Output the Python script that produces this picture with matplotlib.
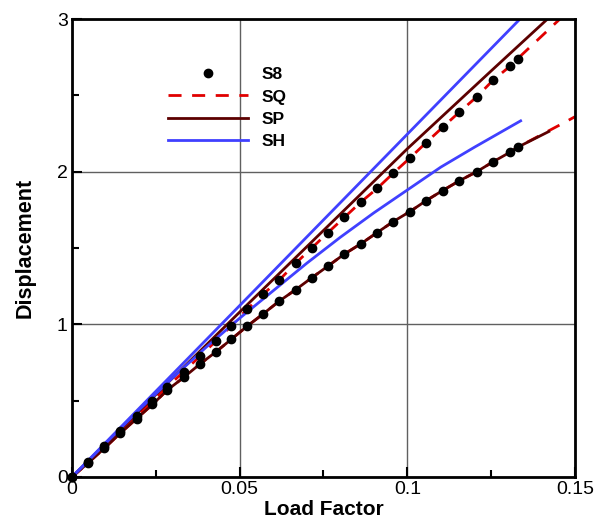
import matplotlib
matplotlib.use("Agg")
import matplotlib.pyplot as plt

plt.rcParams['font.family'] = ['Liberation Sans', 'DejaVu Sans']

# ===============================
# Data
# ===============================
# S8 reference points (shared load factor positions)
s8_x = [0.0, 0.0049, 0.0096, 0.0143, 0.0193, 0.0240, 0.0284, 0.0333, 0.0381,
        0.0429, 0.0475, 0.0523, 0.0571, 0.0618, 0.0667, 0.0715, 0.0763, 0.0812,
        0.0861, 0.0910, 0.0958, 0.1008, 0.1056, 0.1105, 0.1155, 0.1207, 0.1256,
        0.1306, 0.1329]
s8_upper = [0.0, 0.10, 0.20, 0.30, 0.40, 0.50, 0.59, 0.69, 0.79, 0.89, 0.99,
            1.10, 1.20, 1.29, 1.40, 1.50, 1.60, 1.70, 1.80, 1.89, 1.99, 2.09,
            2.19, 2.29, 2.39, 2.49, 2.60, 2.69, 2.74]
s8_lower = [0.0, 0.094, 0.187, 0.285, 0.383, 0.475, 0.569, 0.652, 0.739, 0.819,
            0.902, 0.989, 1.07, 1.152, 1.227, 1.305, 1.381, 1.460, 1.527, 1.601,
            1.673, 1.739, 1.81, 1.876, 1.94, 2.00, 2.065, 2.127, 2.16]

# SQ (dashed) runs through the S8 points and extends further
sq_upper_x = s8_x + [0.1455]
sq_upper_y = s8_upper + [3.0]
sq_lower_x = s8_x + [0.1465, 0.1500]
sq_lower_y = s8_lower + [2.318, 2.36]

# SP (solid dark red)
sp_upper_x = [0.0, 0.025, 0.05, 0.075, 0.10, 0.125, 0.1418]
sp_upper_y = [0.0, 0.54, 1.08, 1.615, 2.15, 2.66, 3.0]
sp_lower_x = s8_x + [0.1422]
sp_lower_y = s8_lower + [2.263]

# SH (solid blue)
sh_upper_x = [0.0, 0.1336]
sh_upper_y = [0.0, 3.0]
sh_lower_x = [0.0, 0.01, 0.02, 0.03, 0.04, 0.05, 0.06, 0.07, 0.08, 0.09, 0.10,
              0.11, 0.12, 0.1338]
sh_lower_y = [0.0, 0.22, 0.44, 0.65, 0.85, 1.04, 1.22, 1.40, 1.57, 1.73, 1.88,
              2.03, 2.16, 2.333]

c_sq = '#e00000'
c_sp = '#5c0000'
c_sh = '#4040ff'
dash = (0, (4.7, 3.8))

fig = plt.figure(figsize=(6.02, 5.17), dpi=100)
ax = fig.add_axes([0.1196, 0.0774, 0.8355, 0.8858])

ax.grid(True, color='#606060', linewidth=1.0)
ax.set_axisbelow(True)

# SQ dashed
ax.plot(sq_upper_x, sq_upper_y, color=c_sq, lw=2.0, ls=dash, label='SQ')
ax.plot(sq_lower_x, sq_lower_y, color=c_sq, lw=2.0, ls=dash)
# SP solid
ax.plot(sp_upper_x, sp_upper_y, color=c_sp, lw=2.0, label='SP')
ax.plot(sp_lower_x, sp_lower_y, color=c_sp, lw=2.0)
# SH solid
ax.plot(sh_upper_x, sh_upper_y, color=c_sh, lw=2.0, label='SH')
ax.plot(sh_lower_x, sh_lower_y, color=c_sh, lw=2.0)
# S8 dots
ax.plot(s8_x, s8_upper, 'o', color='black', ms=6, ls='none', label='S8',
        clip_on=False, zorder=5)
ax.plot(s8_x, s8_lower, 'o', color='black', ms=6, ls='none',
        clip_on=False, zorder=5)

ax.set_xlim(0, 0.15)
ax.set_ylim(0, 3)
ax.set_xticks([0, 0.05, 0.1, 0.15])
ax.set_xticklabels(['0', '0.05', '0.1', '0.15'])
ax.set_yticks([0, 1, 2, 3])
ax.set_xticks([0.025, 0.075, 0.125], minor=True)
ax.set_yticks([0.5, 1.5, 2.5], minor=True)
ax.tick_params(which='both', direction='in', width=1.5, labelsize=14, pad=3)
ax.tick_params(which='major', length=7)
ax.tick_params(which='minor', length=5)
for sp in ax.spines.values():
    sp.set_linewidth(2.0)

ax.set_xlabel('Load Factor', fontsize=15, fontweight='bold', va='center')
ax.xaxis.set_label_coords(0.5, -0.07)
ax.set_ylabel('Displacement', fontsize=15.5, fontweight='bold', va='center')
ax.yaxis.set_label_coords(-0.094, 0.5)

handles, labels = ax.get_legend_handles_labels()
order = [3, 0, 1, 2]
leg = ax.legend([handles[i] for i in order], [labels[i] for i in order],
                loc='upper left', bbox_to_anchor=(0.163, 0.925), frameon=False,
                handlelength=4.6, handletextpad=0.8, labelspacing=0.4,
                borderpad=0.3, prop={'weight': 'bold', 'size': 12.5})

fig.savefig('out.png', dpi=100)
